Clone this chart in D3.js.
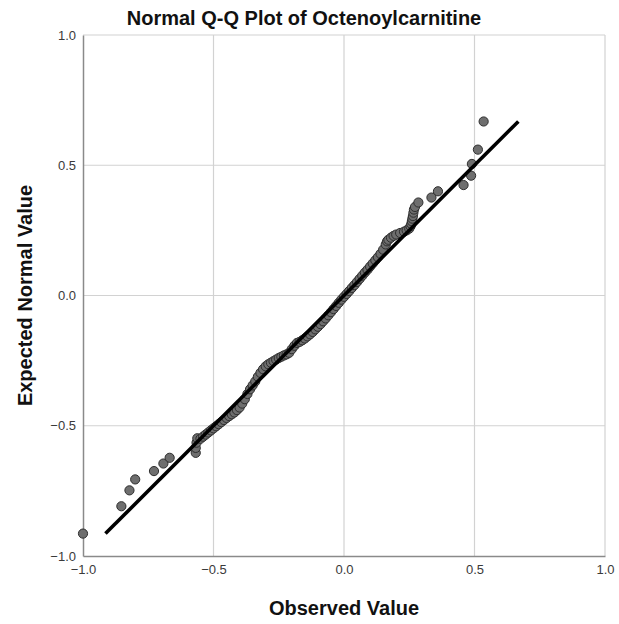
<!DOCTYPE html>
<html><head><meta charset="utf-8">
<script src="https://cdn.jsdelivr.net/npm/d3@7"></script>
<style>body{margin:0;background:#fff;}svg{display:block;font-family:"Liberation Sans",Arial,sans-serif;}</style>
</head><body><svg id="c" width="619" height="624"></svg>
<script>
const titleText = "Normal Q-Q Plot of Octenoylcarnitine";
const xLabel = "Observed Value";
const yLabel = "Expected Normal Value";
const tickValues = [-1.0, -0.5, 0.0, 0.5, 1.0];
const observed = [-1.00,-0.853,-0.822,-0.80,-0.728,-0.692,-0.668,-0.568,-0.568,-0.565,-0.562,
 -0.55,-0.54,-0.53,-0.52,-0.51,-0.50,-0.49,-0.48,-0.47,-0.46,-0.45,-0.44,-0.43,-0.42,-0.41,-0.40,
 -0.39,-0.38,-0.37,-0.36,-0.35,-0.34,-0.33,-0.32,-0.31,-0.30,-0.29,-0.28,-0.27,-0.26,-0.25,-0.24,-0.23,-0.22,-0.21,
 -0.20,-0.19,-0.18,-0.17,-0.16,-0.15,-0.14,-0.13,-0.12,-0.11,-0.10,-0.09,-0.08,-0.07,-0.06,-0.05,-0.04,-0.03,-0.02,-0.01,
 0.00,0.01,0.02,0.03,0.04,0.05,0.06,0.07,0.08,0.09,0.10,0.11,0.12,0.13,0.14,0.15,0.16,0.165,0.17,0.18,0.19,0.20,0.215,0.23,0.24,0.25,
 0.255,0.258,0.26,0.262,0.264,0.266,0.268,0.272,0.285,0.335,0.36,0.458,0.487,0.49,0.513,0.535];
const expected = [-0.914,-0.809,-0.748,-0.706,-0.674,-0.645,-0.623,-0.604,-0.585,-0.565,-0.548,
 -0.550,-0.542,-0.534,-0.526,-0.518,-0.510,-0.502,-0.494,-0.486,-0.478,-0.470,-0.463,-0.456,-0.449,-0.440,-0.430,
 -0.415,-0.398,-0.378,-0.360,-0.345,-0.330,-0.312,-0.297,-0.283,-0.272,-0.264,-0.258,-0.252,-0.246,-0.240,-0.235,-0.230,-0.226,-0.220,
 -0.206,-0.193,-0.182,-0.178,-0.172,-0.165,-0.157,-0.149,-0.140,-0.130,-0.120,-0.110,-0.099,-0.088,-0.076,-0.064,-0.052,-0.040,-0.028,-0.016,
 -0.005,0.006,0.017,0.029,0.040,0.052,0.064,0.076,0.088,0.099,0.111,0.123,0.135,0.147,0.160,0.176,0.196,0.208,0.214,0.222,0.229,0.234,0.240,0.245,0.250,0.257,
 0.266,0.275,0.285,0.295,0.305,0.318,0.330,0.340,0.357,0.376,0.400,0.424,0.460,0.505,0.560,0.668];
const refLine = [-0.914, 0.668];

const svg = d3.select("#c");
const L = 83, R = 605, T = 35, B = 556;
const x = d3.scaleLinear().domain([-1, 1]).range([L, R]);
const y = d3.scaleLinear().domain([-1, 1]).range([B, T]);

// gridlines
const g = svg.append("g");
g.selectAll("line.vx").data(tickValues.slice(1)).join("line")
 .attr("x1", d => x(d)).attr("x2", d => x(d)).attr("y1", T).attr("y2", B)
 .attr("stroke", "#d2d2d2").attr("stroke-width", 1.2);
g.selectAll("line.hy").data(tickValues.slice(1)).join("line")
 .attr("y1", d => y(d)).attr("y2", d => y(d)).attr("x1", L).attr("x2", R)
 .attr("stroke", "#d2d2d2").attr("stroke-width", 1.2);

// axes
const xAxis = d3.axisBottom(x).tickValues(tickValues).tickFormat(d3.format(".1f")).tickSize(0).tickPadding(9);
const yAxis = d3.axisLeft(y).tickValues(tickValues).tickFormat(d3.format(".1f")).tickSize(0).tickPadding(7);
const gx = svg.append("g").attr("transform", `translate(0,${B})`).call(xAxis);
const gy = svg.append("g").attr("transform", `translate(${L},0)`).call(yAxis);
[gx, gy].forEach(a => {
  a.select(".domain").attr("stroke", "#8a8a8a").attr("stroke-width", 1.5);
  a.selectAll("text").attr("font-size", 13).attr("fill", "#3a3a3a").attr("font-family", "Liberation Sans, Arial, sans-serif");
});

// points
svg.append("g").selectAll("circle").data(observed.map((o, i) => [o, expected[i]])).join("circle")
 .attr("cx", d => x(d[0])).attr("cy", d => y(d[1])).attr("r", 4.6)
 .attr("fill", "#6e6e6e").attr("stroke", "#2e2e2e").attr("stroke-width", 1);

// reference line
svg.append("line")
 .attr("x1", x(refLine[0])).attr("y1", y(refLine[0]))
 .attr("x2", x(refLine[1])).attr("y2", y(refLine[1]))
 .attr("stroke", "#000").attr("stroke-width", 3.6);

// titles
svg.append("text").attr("x", 304).attr("y", 25).attr("text-anchor", "middle")
 .attr("font-size", 20).attr("font-weight", "bold").attr("fill", "#111").text(titleText);
svg.append("text").attr("x", (L + R) / 2).attr("y", 615).attr("text-anchor", "middle")
 .attr("font-size", 20).attr("font-weight", "bold").attr("fill", "#111").text(xLabel);
svg.append("text").attr("transform", `translate(32,${(T + B) / 2}) rotate(-90)`).attr("text-anchor", "middle")
 .attr("font-size", 20).attr("font-weight", "bold").attr("fill", "#111").text(yLabel);
</script></body></html>
